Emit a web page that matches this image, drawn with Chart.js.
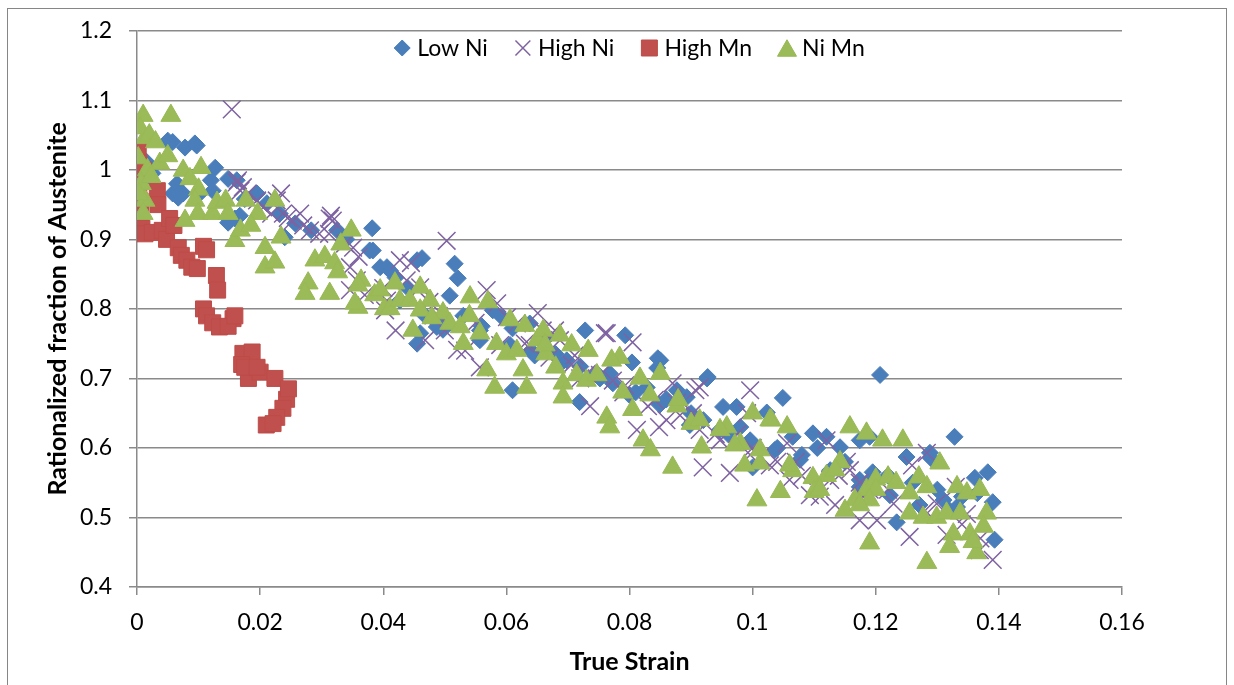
<!DOCTYPE html>
<html>
<head>
<meta charset="utf-8">
<script src="https://cdn.jsdelivr.net/npm/chart.js@4/dist/chart.umd.min.js"></script>
<style>
html,body{margin:0;padding:0;background:#fff;}
#wrap{width:1234px;height:685px;position:relative;}
</style>
</head>
<body>
<div id="wrap"><canvas id="c" width="1234" height="685"></canvas></div>
<script>
// ---- data (x = true strain, y = rationalized fraction of austenite) ----
const seriesNames = ['Low Ni', 'High Ni', 'High Mn', 'Ni Mn'];
const xTickLabels = ['0','0.02','0.04','0.06','0.08','0.1','0.12','0.14','0.16'];
const yTickLabels = ['0.4','0.5','0.6','0.7','0.8','0.9','1','1.1','1.2'];

const lowNi = [
[0.0005,1.00],[0.001,0.985],[0.0015,1.012],[0.0025,0.995],[0.0050,1.042],[0.0058,1.04],[0.0078,1.032],[0.0094,1.038],
[0.0097,1.035],[0.0058,0.966],[0.0067,0.96],[0.0075,0.966],[0.0065,0.98],[0.0102,0.966],[0.0123,0.970],[0.0127,1.003],
[0.012,0.985],[0.0148,0.987],[0.0162,0.985],[0.0151,0.927],[0.0167,0.934],[0.0148,0.924],[0.0159,0.93],[0.0175,0.958],
[0.0195,0.966],[0.0211,0.952],[0.0232,0.937],[0.024,0.903],[0.0257,0.923],[0.0283,0.913],[0.0325,0.913],[0.034,0.9],
[0.0382,0.916],[0.0383,0.884],[0.0378,0.884],[0.0395,0.86],[0.0406,0.86],[0.0411,0.855],[0.042,0.845],[0.044,0.83],
[0.0455,0.870],[0.0463,0.873],[0.0455,0.75],[0.046,0.765],[0.0487,0.774],[0.0497,0.77],[0.0508,0.819],[0.0516,0.865],
[0.0521,0.844],[0.0557,0.755],[0.0578,0.798],[0.0593,0.788],[0.061,0.772],[0.061,0.683],[0.0638,0.779],[0.0666,0.759],
[0.0698,0.726],[0.0719,0.666],[0.072,0.717],[0.0728,0.769],[0.0747,0.707],[0.0768,0.707],[0.0773,0.693],[0.0793,0.762],
[0.0804,0.723],[0.0828,0.687],[0.0845,0.715],[0.0846,0.729],[0.085,0.726],[0.0877,0.683],[0.0893,0.673],[0.0926,0.700],
[0.0927,0.702],[0.09,0.65],[0.0952,0.659],[0.0974,0.659],[0.096,0.62],[0.1,0.572],[0.1023,0.651],[0.1049,0.672],
[0.1065,0.616],[0.1098,0.621],[0.1105,0.6],[0.112,0.616],[0.1142,0.601],[0.1174,0.611],[0.1174,0.544],[0.119,0.616],
[0.1195,0.565],[0.1195,0.558],[0.1207,0.705],[0.1234,0.493],[0.125,0.587],[0.1288,0.593],[0.129,0.585],[0.131,0.525],
[0.1328,0.616],[0.1332,0.515],[0.1361,0.557],[0.1365,0.535],[0.1382,0.565],[0.139,0.522],[0.1393,0.468],
[0.053,0.79],[0.056,0.775],[0.064,0.74],[0.068,0.735],[0.081,0.68],[0.086,0.67],[0.092,0.64],[0.098,0.63],
[0.104,0.6],[0.108,0.59],[0.115,0.58],[0.122,0.56],[0.126,0.55],[0.13,0.54],[0.134,0.53],
[0.0427,0.812],[0.0468,0.79],[0.0492,0.78],[0.0557,0.769],[0.0606,0.748],[0.0646,0.733],[0.0687,0.72],[0.0752,0.70],
[0.08,0.676],[0.0849,0.662],[0.0898,0.633],[0.0947,0.626],[0.0996,0.611],[0.1036,0.597],[0.1077,0.583],[0.1126,0.568],
[0.1174,0.554],[0.1223,0.532],[0.1271,0.518],[0.132,0.51]
];

const highNi = [
[0.0154,1.087],[0.0164,0.985],[0.0162,0.982],[0.0172,0.975],[0.0168,0.97],[0.018,0.966],[0.0195,0.956],[0.0205,0.946],
[0.0234,0.966],[0.0227,0.956],[0.0218,0.937],[0.0237,0.937],[0.0245,0.931],[0.0253,0.927],[0.0265,0.937],[0.027,0.92],
[0.0281,0.913],[0.0296,0.908],[0.0315,0.934],[0.0313,0.93],[0.0318,0.927],[0.0312,0.908],[0.0338,0.894],[0.0351,0.888],
[0.036,0.875],[0.0346,0.86],[0.0357,0.841],[0.0406,0.812],[0.0427,0.870],[0.0445,0.866],[0.0438,0.841],[0.046,0.831],
[0.0475,0.81],[0.049,0.79],[0.0503,0.898],[0.052,0.741],[0.0557,0.716],[0.0568,0.827],[0.0585,0.808],[0.0601,0.788],
[0.0617,0.779],[0.0651,0.794],[0.0659,0.769],[0.0687,0.755],[0.0706,0.72],[0.0731,0.707],[0.0736,0.66],[0.076,0.765],
[0.0763,0.765],[0.0773,0.697],[0.0805,0.752],[0.0812,0.626],[0.0848,0.63],[0.087,0.693],[0.0877,0.665],[0.0903,0.65],
[0.0907,0.683],[0.0914,0.687],[0.0919,0.572],[0.0963,0.564],[0.0975,0.62],[0.0996,0.683],[0.0991,0.65],[0.1012,0.587],
[0.1056,0.607],[0.107,0.58],[0.1109,0.53],[0.112,0.611],[0.1153,0.58],[0.1174,0.55],[0.1202,0.496],[0.1229,0.52],
[0.1255,0.472],[0.1259,0.575],[0.1283,0.593],[0.1299,0.52],[0.1315,0.475],[0.133,0.544],[0.1348,0.505],[0.1369,0.453],
[0.139,0.439],[0.04,0.83],[0.055,0.78],[0.063,0.75],[0.067,0.73],[0.072,0.70],[0.079,0.68],[0.083,0.66],[0.086,0.64],
[0.094,0.62],[0.1,0.6],[0.104,0.58],[0.108,0.56],[0.114,0.56],[0.118,0.53],[0.122,0.54],[0.128,0.51],[0.134,0.49],[0.137,0.47],
[0.0346,0.827],[0.037,0.82],[0.0403,0.798],[0.042,0.769],[0.0468,0.755],[0.05,0.769],[0.0533,0.74],[0.059,0.748],
[0.0638,0.748],[0.0679,0.769],[0.0711,0.733],[0.0752,0.705],[0.0793,0.69],[0.0841,0.669],[0.0882,0.647],[0.0914,0.626],
[0.0947,0.611],[0.0996,0.59],[0.1028,0.575],[0.106,0.554],[0.1093,0.532],[0.1126,0.554],[0.1158,0.568],[0.119,0.54],
[0.1134,0.518],[0.1174,0.496]
];

const highMn = [
[0.0002,1.03],[0.0003,1.01],[0.0002,0.99],[0.0003,0.97],[0.0005,0.955],[0.0006,0.937],[0.001,1.0],[0.0008,0.916],
[0.0013,0.908],[0.0025,0.91],[0.0033,0.97],[0.0034,0.95],[0.0041,0.913],[0.0053,0.93],[0.0048,0.90],[0.006,0.92],
[0.0067,0.888],[0.0072,0.877],[0.0081,0.87],[0.0089,0.86],[0.0098,0.858],[0.0108,0.89],[0.0113,0.885],[0.0129,0.848],
[0.0131,0.827],[0.0108,0.80],[0.0113,0.79],[0.0123,0.78],[0.0134,0.774],[0.0156,0.786],[0.0148,0.775],[0.0159,0.79],
[0.0172,0.736],[0.0187,0.738],[0.017,0.72],[0.0181,0.70],[0.02,0.709],[0.0175,0.716],[0.0195,0.716],[0.0224,0.70],
[0.0243,0.67],[0.0246,0.685],[0.0237,0.657],[0.0227,0.644],[0.021,0.633],[0.0221,0.635]
];

const niMn = [
[0.001,1.078],[0.0055,1.078],[0.0013,1.046],[0.0005,1.06],[0.002,1.05],[0.0002,1.017],[0.0017,1.0],[0.003,1.04],
[0.0037,1.009],[0.005,1.02],[0.0007,0.98],[0.0013,0.956],[0.001,0.937],[0.0003,0.965],[0.0023,0.99],[0.0075,0.999],
[0.0104,1.003],[0.0086,0.987],[0.01,0.972],[0.0094,0.956],[0.0078,0.927],[0.0099,0.937],[0.0123,0.937],[0.013,0.953],
[0.0144,0.956],[0.0148,0.937],[0.0177,0.956],[0.0159,0.898],[0.0168,0.913],[0.0196,0.937],[0.0185,0.92],[0.0208,0.888],
[0.0224,0.956],[0.0234,0.903],[0.0208,0.86],[0.0224,0.867],[0.0289,0.87],[0.0305,0.875],[0.0321,0.866],[0.0348,0.913],
[0.0331,0.893],[0.0326,0.853],[0.0278,0.837],[0.0273,0.822],[0.0313,0.822],[0.0364,0.841],[0.0359,0.802],[0.0386,0.82],
[0.0402,0.80],[0.0395,0.827],[0.0411,0.80],[0.0448,0.769],[0.046,0.831],[0.0476,0.812],[0.0497,0.794],[0.0508,0.779],
[0.0525,0.774],[0.0541,0.817],[0.053,0.75],[0.0557,0.765],[0.0568,0.712],[0.0581,0.687],[0.0584,0.75],[0.06,0.735],
[0.0617,0.74],[0.0627,0.712],[0.0633,0.687],[0.065,0.755],[0.066,0.769],[0.0664,0.735],[0.068,0.716],[0.0692,0.693],
[0.0692,0.673],[0.0706,0.748],[0.0714,0.705],[0.073,0.697],[0.0747,0.705],[0.0763,0.644],[0.0768,0.63],[0.0784,0.73],
[0.0789,0.68],[0.0805,0.655],[0.0822,0.611],[0.0834,0.597],[0.085,0.707],[0.087,0.572],[0.0877,0.66],[0.09,0.635],
[0.0917,0.601],[0.0958,0.63],[0.098,0.606],[0.1,0.65],[0.1012,0.578],[0.1007,0.525],[0.103,0.64],[0.1056,0.63],
[0.1065,0.567],[0.1098,0.557],[0.112,0.56],[0.1142,0.58],[0.1158,0.63],[0.1185,0.621],[0.1185,0.54],[0.12,0.555],
[0.11,0.537],[0.1045,0.537],[0.119,0.463],[0.1211,0.611],[0.1244,0.611],[0.122,0.558],[0.1233,0.55],[0.12,0.54],
[0.119,0.525],[0.127,0.558],[0.1283,0.544],[0.1255,0.535],[0.1304,0.578],[0.1255,0.506],[0.1277,0.5],[0.1299,0.5],
[0.1315,0.506],[0.1337,0.506],[0.1332,0.544],[0.1348,0.535],[0.1369,0.54],[0.138,0.506],[0.1375,0.487],[0.1326,0.476],
[0.132,0.458],[0.1353,0.476],[0.1364,0.449],[0.1358,0.465],[0.1283,0.435],
[0.0354,0.808],[0.0359,0.834],[0.0427,0.812],[0.0443,0.812],[0.0419,0.837],[0.046,0.798],[0.0479,0.787],[0.054,0.79],
[0.057,0.81],[0.0606,0.784],[0.063,0.776],[0.0663,0.748],[0.0687,0.762],[0.0733,0.74],[0.0771,0.726],[0.0817,0.70],
[0.0833,0.676],[0.0879,0.669],[0.0914,0.64],[0.0947,0.626],[0.0971,0.604],[0.1012,0.597],[0.0987,0.575],[0.1028,0.64],
[0.106,0.575],[0.1109,0.54],[0.1134,0.568],[0.1166,0.525],[0.115,0.51],[0.1174,0.518]
];

const toPts = arr => arr.map(p => ({x: p[0], y: p[1]}));
const FONT = "Lato, 'Open Sans', sans-serif";
const GRID = '#8a8a8a';

const datasets = [
  {label: seriesNames[0], data: toPts(lowNi), pointStyle: 'rectRot', pointRadius: 8.5,
   backgroundColor: '#4A7EBB', borderColor: '#4A7EBB', borderWidth: 1, order: 4, legendR: 8},
  {label: seriesNames[1], data: toPts(highNi), pointStyle: 'crossRot', pointRadius: 12.5,
   backgroundColor: '#7E62A1', borderColor: '#7E62A1', borderWidth: 1.5, order: 3, legendR: 10.5},
  {label: seriesNames[2], data: toPts(highMn), pointStyle: 'rect', pointRadius: 11.3,
   backgroundColor: '#C0504D', borderColor: '#BE4B48', borderWidth: 1, order: 2, legendR: 11.3},
  {label: seriesNames[3], data: toPts(niMn), pointStyle: 'triangle', pointRadius: 11.5,
   backgroundColor: '#9BBB59', borderColor: '#98B954', borderWidth: 1, order: 1, legendR: 11}
];

function drawShape(ctx, style, x, y, r) {
  ctx.beginPath();
  if (style === 'rectRot') {
    ctx.moveTo(x, y - r); ctx.lineTo(x + r, y); ctx.lineTo(x, y + r); ctx.lineTo(x - r, y); ctx.closePath();
    ctx.fill(); ctx.stroke();
  } else if (style === 'rect') {
    const s = Math.SQRT1_2 * r; ctx.rect(x - s, y - s, 2 * s, 2 * s); ctx.fill(); ctx.stroke();
  } else if (style === 'triangle') {
    const h = r * Math.sin(Math.PI / 3);
    ctx.moveTo(x, y - r * 0.75); ctx.lineTo(x + h, y + r * 0.75); ctx.lineTo(x - h, y + r * 0.75); ctx.closePath();
    ctx.fill(); ctx.stroke();
  } else if (style === 'crossRot') {
    const o = r * Math.SQRT1_2;
    ctx.moveTo(x - o, y - o); ctx.lineTo(x + o, y + o); ctx.moveTo(x + o, y - o); ctx.lineTo(x - o, y + o);
    ctx.stroke();
  }
}

const framePlugin = {
  id: 'frame',
  beforeDraw(chart) {
    const ctx = chart.ctx;
    ctx.save();
    ctx.fillStyle = '#ffffff';
    ctx.fillRect(0, 0, chart.width, chart.height);
    ctx.strokeStyle = '#868686';
    ctx.lineWidth = 1;
    ctx.strokeRect(7.5, 8.5, 1219, 700);
    ctx.restore();
  },
  afterDraw(chart) {
    const ctx = chart.ctx;
    const area = chart.chartArea;
    ctx.save();
    ctx.font = "23px " + FONT;
    ctx.textBaseline = 'middle';
    ctx.textAlign = 'left';
    const ds = chart.data.datasets;
    const items = ds.map(d => ({d, w: ctx.measureText(d.label).width}));
    let total = 0;
    items.forEach((it, i) => { total += 8 + 15 + it.w + (i < items.length - 1 ? 35 - 8 : 0); });
    let cursor = (area.left + area.right) / 2 - total / 2;
    const y = 48;
    items.forEach(it => {
      const mc = cursor + 8;
      ctx.fillStyle = it.d.backgroundColor;
      ctx.strokeStyle = it.d.borderColor;
      ctx.lineWidth = it.d.borderWidth;
      drawShape(ctx, it.d.pointStyle, mc, y, it.d.legendR);
      ctx.fillStyle = '#000';
      ctx.fillText(it.d.label, mc + 15, y + 1);
      cursor = mc + 15 + it.w + 35 - 8;
    });
    ctx.restore();
  }
};

new Chart(document.getElementById('c'), {
  type: 'scatter',
  data: {datasets},
  plugins: [framePlugin],
  options: {
    responsive: false,
    animation: false,
    events: [],
    layout: {padding: {top: 30, right: 112, left: 0, bottom: 0}},
    plugins: {legend: {display: false}, tooltip: {enabled: false}},
    scales: {
      x: {
        type: 'linear', min: 0, max: 0.16,
        afterFit: s => { s.height = 98; },
        ticks: {stepSize: 0.02, color: '#000', padding: 14, font: {family: FONT, size: 23},
                maxRotation: 0, autoSkip: false,
                callback: v => xTickLabels[Math.round(v / 0.02)]},
        grid: {drawOnChartArea: false, drawTicks: true, tickLength: 8, color: GRID, lineWidth: 1.5},
        border: {display: true, color: GRID, width: 1.5},
        title: {display: true, text: 'True Strain', color: '#000',
                font: {family: FONT, size: 25, weight: 'bold'}, padding: {top: 0, bottom: 8}}
      },
      y: {
        type: 'linear', min: 0.4, max: 1.2,
        afterFit: s => { s.width = 137; },
        ticks: {stepSize: 0.1, color: '#000', padding: 17, font: {family: FONT, size: 23},
                callback: v => yTickLabels[Math.round((v - 0.4) / 0.1)]},
        grid: {drawOnChartArea: true, drawTicks: true, tickLength: 8, color: GRID, lineWidth: 1.5},
        border: {display: true, color: GRID, width: 1.5},
        title: {display: true, text: 'Rationalized fraction of Austenite', color: '#000',
                font: {family: FONT, size: 25, weight: 'bold'}, padding: {top: 43, bottom: 0}}
      }
    }
  }
});
</script>
</body>
</html>
